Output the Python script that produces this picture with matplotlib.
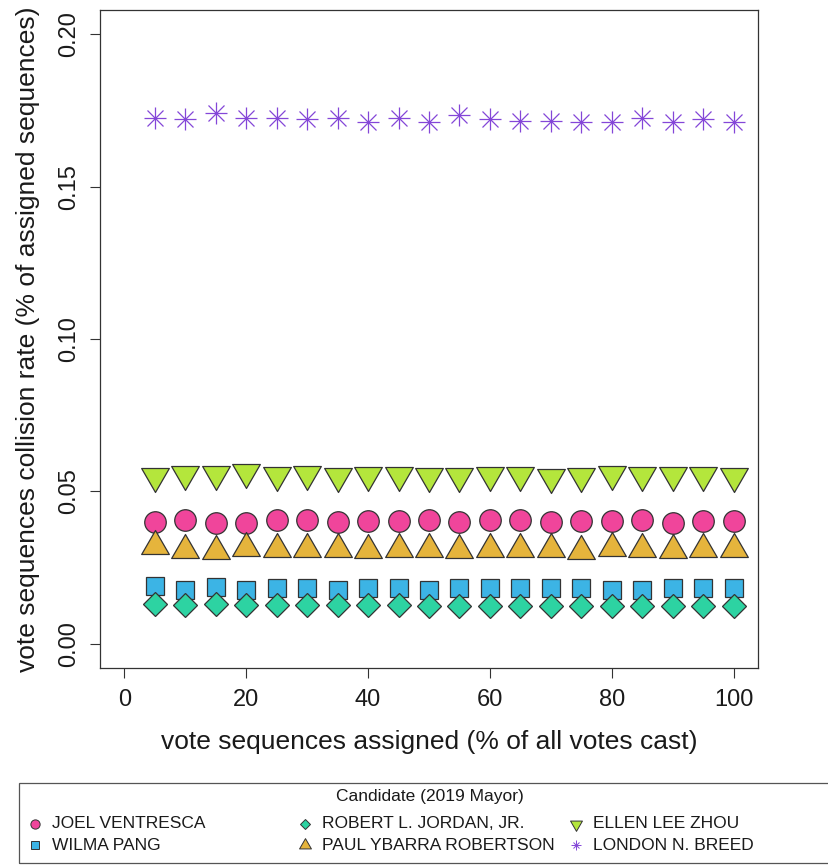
import numpy as np
import matplotlib.pyplot as plt
from matplotlib.path import Path
from matplotlib.patches import Rectangle

plt.rcParams['font.family'] = ['Liberation Sans', 'DejaVu Sans']

# share of votes assigned (%)
assigned = [5, 10, 15, 20, 25, 30, 35, 40, 45, 50,
            55, 60, 65, 70, 75, 80, 85, 90, 95, 100]

candidates = ['JOEL VENTRESCA', 'WILMA PANG', 'ROBERT L. JORDAN, JR.',
              'PAUL YBARRA ROBERTSON', 'ELLEN LEE ZHOU', 'LONDON N. BREED']

# collision rate per candidate (% of assigned sequences)
ventresca = [0.0400, 0.0407, 0.0396, 0.0396, 0.0405, 0.0407, 0.0398, 0.0403, 0.0403, 0.0405,
             0.0400, 0.0405, 0.0407, 0.0400, 0.0402, 0.0402, 0.0405, 0.0397, 0.0402, 0.0402]
pang = [0.0188, 0.0176, 0.0186, 0.0176, 0.0184, 0.0181, 0.0177, 0.0181, 0.0184, 0.0177,
        0.0181, 0.0183, 0.0181, 0.0181, 0.0181, 0.0177, 0.0177, 0.0181, 0.0181, 0.0181]
jordan = [0.0131, 0.0126, 0.0129, 0.0126, 0.0126, 0.0126, 0.0126, 0.0126, 0.0126, 0.0125,
          0.0124, 0.0124, 0.0124, 0.0124, 0.0124, 0.0124, 0.0124, 0.0124, 0.0124, 0.0124]
robertson = [0.0319, 0.0307, 0.0305, 0.0314, 0.0309, 0.0312, 0.0309, 0.0307, 0.0309, 0.0310,
             0.0307, 0.0309, 0.0309, 0.0309, 0.0305, 0.0314, 0.0309, 0.0308, 0.0309, 0.0309]
zhou = [0.0550, 0.0557, 0.0557, 0.0565, 0.0554, 0.0557, 0.0549, 0.0554, 0.0554, 0.0551,
        0.0550, 0.0553, 0.0553, 0.0548, 0.0550, 0.0556, 0.0553, 0.0553, 0.0553, 0.0551]
breed = [0.1724, 0.1721, 0.1741, 0.1724, 0.1724, 0.1722, 0.1724, 0.1713, 0.1727, 0.1711,
         0.1735, 0.1721, 0.1717, 0.1717, 0.1713, 0.1713, 0.1724, 0.1713, 0.1722, 0.1713]

series = [ventresca, pang, jordan, robertson, zhou, breed]
fills = ['#f0459b', '#3cb4e5', '#2dd3a2', '#e5b43c', '#b4e63c', '#8446d8']

# equilateral triangles centred on their centroid (like R pch 24/25)
tri_up = Path([(0, 1.555), (1.347, -0.778), (-1.347, -0.778), (0, 1.555)],
              [Path.MOVETO, Path.LINETO, Path.LINETO, Path.CLOSEPOLY])
tri_down = Path([(0, -1.555), (1.347, 0.778), (-1.347, 0.778), (0, -1.555)],
                [Path.MOVETO, Path.LINETO, Path.LINETO, Path.CLOSEPOLY])

markers = ['o', 's', 'D', tri_up, tri_down, 'star']
sizes = [15.5, 12.5, 12, 23, 23, 16.5]
edge = '#333333'

fig = plt.figure(figsize=(8.29, 8.65), dpi=100)
ax = fig.add_axes([100 / 829, 1 - 668 / 865, 658 / 829, 658 / 865])


def draw_points(ax, x, y, marker, size, color, lw=0.9):
    if marker == 'star':
        ax.plot(x, y, ls='none', marker='+', ms=size, mew=lw, color=color)
        ax.plot(x, y, ls='none', marker='x', ms=size * 0.7, mew=lw, color=color)
    else:
        ax.plot(x, y, ls='none', marker=marker, ms=size, mfc=color,
                mec=edge, mew=lw)


for vals, m, s, c in zip(series, markers, sizes, fills):
    draw_points(ax, assigned, vals, m, s, c)

ax.set_xlim(-4, 104)
ax.set_ylim(-0.008, 0.208)
ax.set_xticks(np.arange(0, 101, 20))
ax.set_yticks(np.arange(0, 0.201, 0.05))
ax.set_yticklabels(['%.2f' % v for v in np.arange(0, 0.201, 0.05)],
                   rotation=90, va='center')
ax.tick_params(direction='out', length=7.2, width=0.8, color=edge,
               labelsize=17, labelcolor='#1a1a1a')
ax.tick_params(axis='x', pad=8)
ax.tick_params(axis='y', pad=7)
for sp in ax.spines.values():
    sp.set_color(edge)
    sp.set_linewidth(0.9)

ax.set_xlabel('vote sequences assigned (% of all votes cast)', fontsize=19,
              color='#1a1a1a', va='center')
ax.xaxis.set_label_coords(0.5, (668 - 742) / 658)
ax.set_ylabel('vote sequences collision rate (% of assigned sequences)',
              fontsize=19, color='#1a1a1a', va='center')
ax.yaxis.set_label_coords((28 - 100) / 658, 0.5)

# legend drawn in figure pixels, three equal-width columns filled column-wise
W, H = 829, 865
fig.patches.append(Rectangle((19 / W, 1 - 863 / H), 830 / W, 80 / H,
                             transform=fig.transFigure, fill=False,
                             edgecolor='#555555', lw=0.9))
fig.text(430 / W, 1 - 797 / H, 'Candidate (2019 Mayor)', ha='center',
         va='center', fontsize=12.5, color='#1a1a1a')

leg_ax = fig.add_axes([0, 0, 1, 1])
leg_ax.set_xlim(0, W)
leg_ax.set_ylim(H, 0)
leg_ax.axis('off')
col_x = [35, 305, 576]
row_y = [824, 845]
for i, (name, m, s, c) in enumerate(zip(candidates, markers, sizes, fills)):
    cx = col_x[i // 2]
    cy = row_y[i % 2]
    draw_points(leg_ax, [cx], [cy], m, s * 0.43, c, lw=0.7)
    leg_ax.text(cx + 17, cy, name, ha='left', va='center', fontsize=12.5,
                color='#1a1a1a')

fig.savefig('out.png', dpi=100)
